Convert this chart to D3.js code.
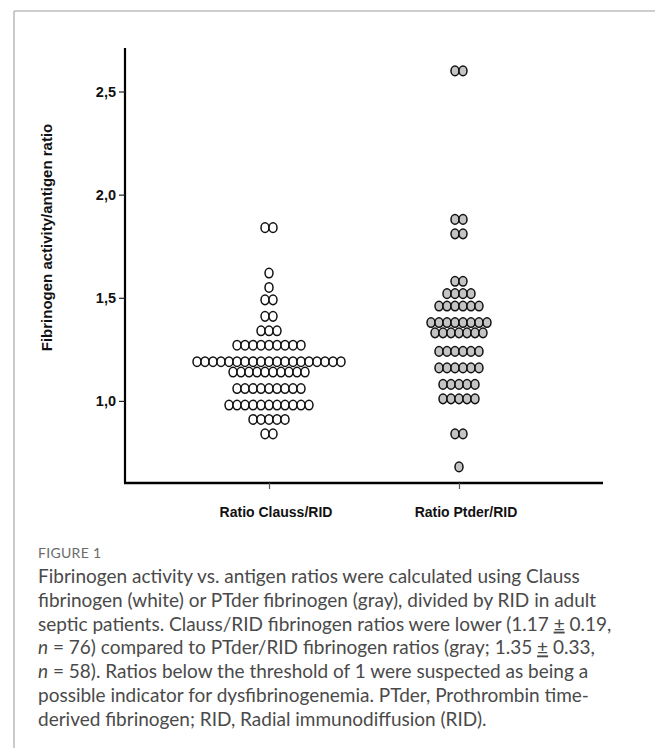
<!DOCTYPE html>
<html>
<head>
<meta charset="utf-8">
<script src="https://cdn.jsdelivr.net/npm/d3@7"></script>
<style>
  html, body { margin: 0; padding: 0; background: #fff; }
  svg { display: block; }
</style>
</head>
<body>
<svg id="chart" width="655" height="748"></svg>
<script>
// ---- data ----
const categories = ["Ratio Clauss/RID", "Ratio Ptder/RID"];
const claussRatios = [
  1.84, 1.84,
  1.62,
  1.55,
  1.49, 1.49,
  1.41, 1.41,
  1.34, 1.34, 1.34,
  1.27, 1.27, 1.27, 1.27, 1.27, 1.27, 1.27, 1.27, 1.27,
  1.19, 1.19, 1.19, 1.19, 1.19, 1.19, 1.19, 1.19, 1.19, 1.19, 1.19, 1.19, 1.19, 1.19, 1.19, 1.19, 1.19, 1.19, 1.19,
  1.14, 1.14, 1.14, 1.14, 1.14, 1.14, 1.14, 1.14, 1.14, 1.14,
  1.06, 1.06, 1.06, 1.06, 1.06, 1.06, 1.06, 1.06, 1.06,
  0.98, 0.98, 0.98, 0.98, 0.98, 0.98, 0.98, 0.98, 0.98, 0.98, 0.98,
  0.91, 0.91, 0.91, 0.91, 0.91,
  0.84, 0.84
];
const ptderRatios = [
  2.60, 2.60,
  1.88, 1.88,
  1.81, 1.81,
  1.58, 1.58,
  1.52, 1.52, 1.52, 1.52,
  1.46, 1.46, 1.46, 1.46, 1.46, 1.46,
  1.38, 1.38, 1.38, 1.38, 1.38, 1.38, 1.38, 1.38,
  1.33, 1.33, 1.33, 1.33, 1.33, 1.33, 1.33,
  1.24, 1.24, 1.24, 1.24, 1.24, 1.24,
  1.16, 1.16, 1.16, 1.16, 1.16, 1.16,
  1.08, 1.08, 1.08, 1.08, 1.08,
  1.01, 1.01, 1.01, 1.01, 1.01,
  0.84, 0.84,
  0.68
];
const yTicks = [1.0, 1.5, 2.0, 2.5];
const yTickLabels = ["1,0", "1,5", "2,0", "2,5"];
const yTitle = "Fibrinogen activity/antigen ratio";
const figureLabel = "FIGURE 1";

// ---- layout ----
const svg = d3.select("#chart");
const W = 655, H = 748;
const x0 = 125, x1 = 603, yTop = 48, yBot = 483;

// frame lines
svg.append("line").attr("x1", 14).attr("y1", 11).attr("x2", 14).attr("y2", H)
  .attr("stroke", "#bdbdbd").attr("stroke-width", 1.6);
svg.append("line").attr("x1", 14).attr("y1", 11).attr("x2", W).attr("y2", 11)
  .attr("stroke", "#bdbdbd").attr("stroke-width", 1.6);

const y = d3.scaleLinear().domain([0.602, 2.711]).range([yBot, yTop]);
const x = d3.scalePoint().domain(categories).range([x0, x1]).padding(0.758);

// y axis
const yAxis = d3.axisLeft(y).tickValues(yTicks)
  .tickFormat((d, i) => yTickLabels[i]).tickSize(6).tickSizeOuter(0).tickPadding(3);
const gy = svg.append("g").attr("transform", `translate(${x0},0)`).call(yAxis);
gy.select(".domain").attr("stroke", "#000").attr("stroke-width", 2.2)
  .attr("d", `M0,${yTop}V${yBot}`);
gy.selectAll(".tick line").attr("stroke", "#222").attr("stroke-width", 1.2);
gy.selectAll(".tick text").attr("fill", "#111")
  .style("font-family", "'Liberation Sans', Arial, sans-serif")
  .style("font-size", "14.5px").style("font-weight", "bold");

// x axis
const xAxis = d3.axisBottom(x).tickSize(6).tickSizeOuter(0).tickFormat(() => "");
const gx = svg.append("g").attr("transform", `translate(0,${yBot})`).call(xAxis);
gx.select(".domain").attr("stroke", "#000").attr("stroke-width", 2.4)
  .attr("d", `M${x0 - 1},0H${x1}`);
gx.selectAll(".tick line").attr("stroke", "#555").attr("stroke-width", 1.2);

svg.selectAll("text.xlab").data(categories).enter().append("text")
  .attr("class", "xlab")
  .attr("x", d => x(d) + 7).attr("y", 517)
  .attr("text-anchor", "middle")
  .style("font-family", "'Liberation Sans', Arial, sans-serif")
  .style("font-size", "14px").style("font-weight", "bold").attr("fill", "#111")
  .text(d => d);

// y title
svg.append("text")
  .attr("transform", `translate(52,${(120 + 355) / 2}) rotate(-90)`)
  .attr("text-anchor", "middle")
  .style("font-family", "'Liberation Sans', Arial, sans-serif")
  .style("font-size", "15px").style("font-weight", "bold").attr("fill", "#111")
  .text(yTitle);

// beeswarm (rows of equal value spread horizontally)
const spacing = 8;
function swarm(values, cat) {
  const rows = d3.groups(values, v => v);
  const pts = [];
  rows.forEach(([v, arr]) => {
    const n = arr.length;
    arr.forEach((_, i) => pts.push({ cat, v, dx: (i - (n - 1) / 2) * spacing }));
  });
  return pts;
}
const series = [
  { cat: categories[0], values: claussRatios, fill: "#ffffff" },
  { cat: categories[1], values: ptderRatios, fill: "#c4c4c4" }
];
series.forEach(s => {
  svg.append("g").selectAll("ellipse").data(swarm(s.values, s.cat)).enter()
    .append("ellipse")
    .attr("cx", d => x(d.cat) + d.dx)
    .attr("cy", d => y(d.v))
    .attr("rx", 4.0).attr("ry", 4.8)
    .attr("fill", s.fill).attr("stroke", "#111").attr("stroke-width", 1.5);
});

// caption
const cap = svg.append("g").style("font-family", "Lato, 'Open Sans', sans-serif");
cap.append("text").attr("x", 38).attr("y", 558)
  .style("font-size", "14px").attr("fill", "#6b6b6b").attr("letter-spacing", "0.3")
  .text(figureLabel);

const capLines = [
  [["Fibrinogen activity vs. antigen ratios were calculated using Clauss", false]],
  [["fibrinogen (white) or PTder fibrinogen (gray), divided by RID in adult", false]],
  [["septic patients. Clauss/RID fibrinogen ratios were lower (1.17 ", false], ["±", "u"], [" 0.19,", false]],
  [["n", true], [" = 76) compared to PTder/RID fibrinogen ratios (gray; 1.35 ", false], ["±", "u"], [" 0.33,", false]],
  [["n", true], [" = 58). Ratios below the threshold of 1 were suspected as being a", false]],
  [["possible indicator for dysfibrinogenemia. PTder, Prothrombin time-", false]],
  [["derived fibrinogen; RID, Radial immunodiffusion (RID).", false]]
];
capLines.forEach((parts, i) => {
  const t = cap.append("text").attr("x", 38).attr("y", 583 + i * 23.8)
    .style("font-size", "19px").attr("fill", "#4a4a4a");
  parts.forEach(([s, f]) => {
    const sp = t.append("tspan").text(s);
    if (f === true) sp.style("font-style", "italic");
    if (f === "u") sp.style("text-decoration", "underline");
  });
});
</script>
</body>
</html>
